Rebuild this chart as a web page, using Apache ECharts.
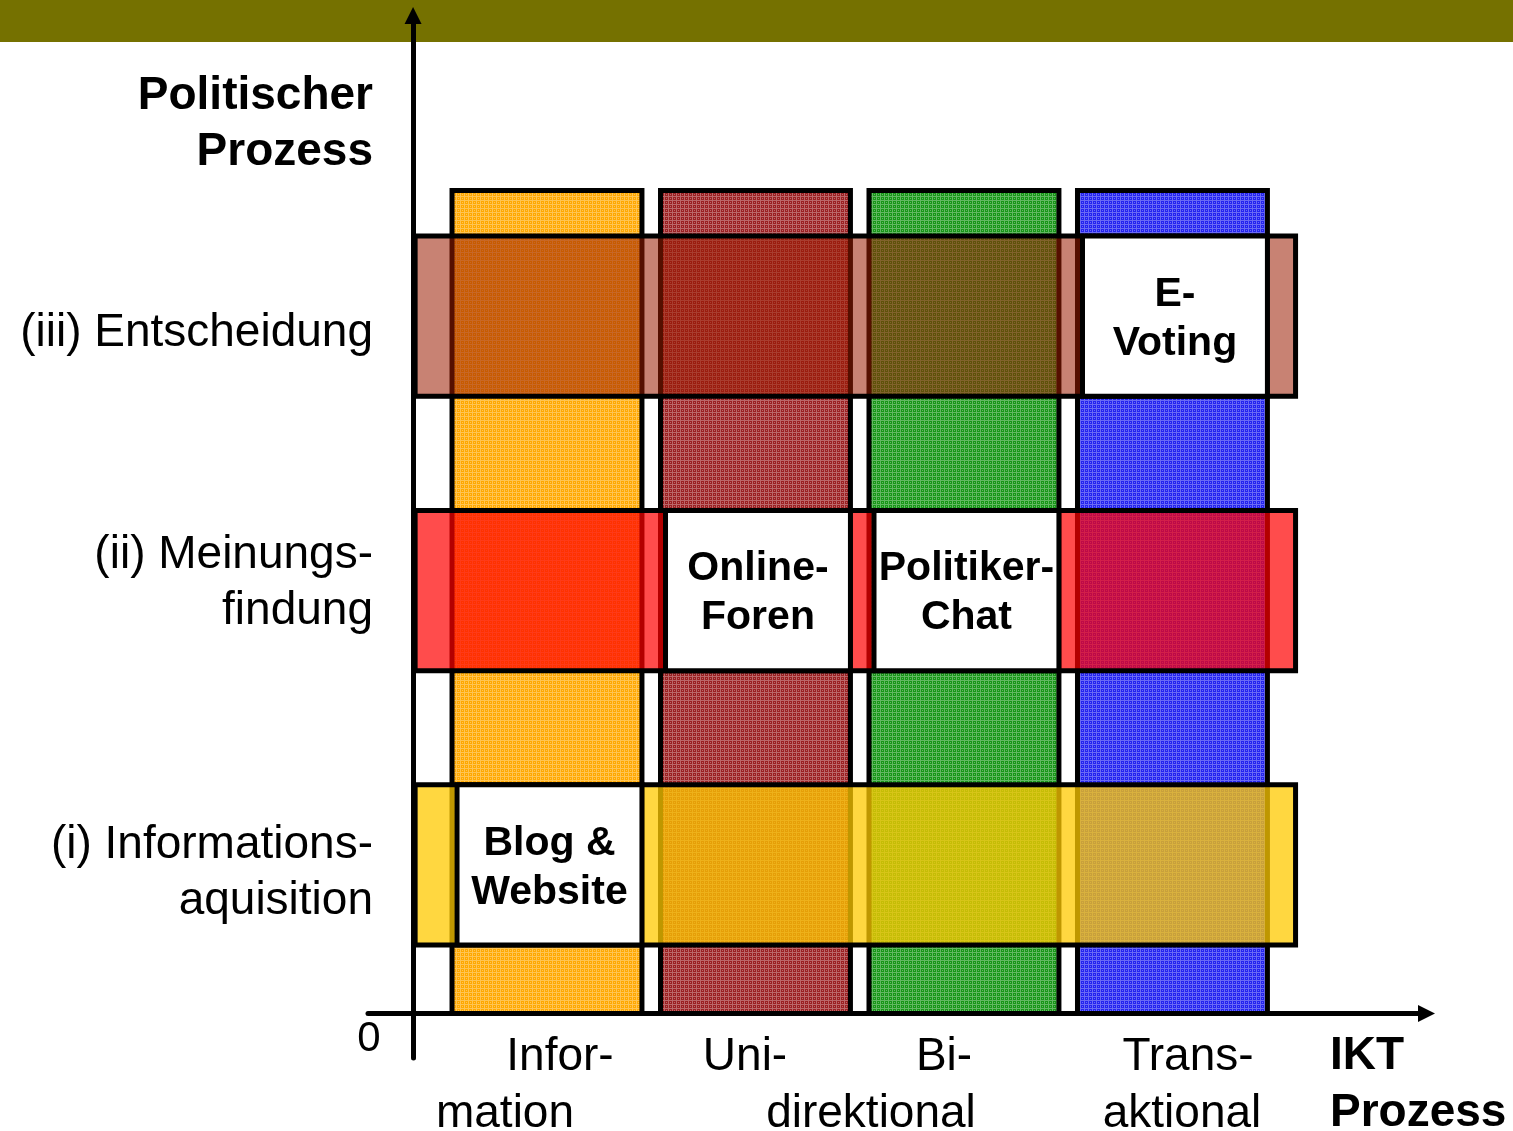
<!DOCTYPE html>
<html><head><meta charset="utf-8">
<script src="https://cdn.jsdelivr.net/npm/echarts@6/dist/echarts.min.js"></script>
<style>html,body{margin:0;padding:0;background:#fff}#chart{width:1513px;height:1131px}</style>
</head><body><div id="chart"></div>
<script>
// ---------------- data ----------------
const ictLevels = ['Information', 'Uni-direktional', 'Bi-direktional', 'Transaktional'];
const ictColumnStart = [0.187, 1.187, 2.187, 3.187];
const ictColumnEnd = [1.098, 2.098, 3.098, 4.098];
const ictColumnTop = [3, 3, 3, 3];

const politicalStages = ['(i) Informations-\naquisition', '(ii) Meinungs-\nfindung', '(iii) Entscheidung'];
const stageBandLow = [0.25, 1.25, 2.25];
const stageBandHigh = [0.834, 1.834, 2.834];
const stageBandFrom = [0.01, 0.01, 0.01];
const stageBandTo = [4.233, 4.233, 4.233];
const stageLabelAt = [0.51, 1.57, 2.48];

const toolNames = ['Blog &\nWebsite', 'Online-\nForen', 'Politiker-\nChat', 'E-\nVoting'];
const toolStage = [0, 1, 1, 2];
const toolFrom = [0.211, 1.211, 2.211, 3.211];
const toolTo = [1.098, 2.098, 3.098, 4.098];

const ictTickLines = ['Infor-', 'mation', 'Uni-', 'Bi-', 'direktional', 'Trans-', 'aktional'];
const axisTitleY = 'Politischer\nProzess';
const axisTitleX = 'IKT\nProzess';
const originLabel = '0';

// ---------------- styles / layout ----------------
const FONT = '"Liberation Sans", Arial, sans-serif';
const columnBase = [[255, 168, 0], [155, 32, 34], [24, 150, 24], [36, 36, 240]];
const bandColors = ['rgba(255,201,0,0.75)', 'rgba(255,0,0,0.7)', 'rgba(155,27,0,0.55)'];
const ictTickPos = [[560, 1057], [505, 1114], [745, 1057], [944, 1057], [871, 1114], [1188, 1057], [1182, 1114]];
const stageLabelRight = 373;

function plaid(rgb) {
  const c = document.createElement('canvas');
  c.width = 4; c.height = 4;
  const g = c.getContext('2d');
  const light = rgb.map(v => Math.round(v * 0.68 + 255 * 0.32));
  g.fillStyle = 'rgb(' + rgb.join(',') + ')';
  g.fillRect(0, 0, 4, 4);
  g.fillStyle = 'rgb(' + light.join(',') + ')';
  g.fillRect(0, 0, 4, 1);
  g.fillRect(0, 0, 1, 4);
  g.fillRect(2, 2, 1, 1);
  return { image: c, repeat: 'repeat' };
}
const columnFills = columnBase.map(plaid);

const chart = echarts.init(document.getElementById('chart'), null, { renderer: 'canvas' });

function rectShape(api, x0, x1, y0, y1) {
  const a = api.coord([x0, y1]);
  const b = api.coord([x1, y0]);
  return { x: a[0], y: a[1], width: b[0] - a[0], height: b[1] - a[1] };
}

const columnData = ictLevels.map((n, i) => [ictColumnStart[i], ictColumnEnd[i], 0, ictColumnTop[i], i]);
const bandData = politicalStages.map((n, i) => [stageBandFrom[i], stageBandTo[i], stageBandLow[i], stageBandHigh[i], i]);
const toolData = toolNames.map((n, i) => [toolFrom[i], toolTo[i], stageBandLow[toolStage[i]], stageBandHigh[toolStage[i]], i]);

function textEl(x, y, text, font, align, lineHeight) {
  return { type: 'text', x: x, y: y, style: { text: text, font: font, fill: '#000', align: align, verticalAlign: 'middle', textAlign: align, textVerticalAlign: 'middle', lineHeight: lineHeight } };
}

const graphics = [
  { type: 'rect', z: -10, shape: { x: 0, y: 0, width: 1513, height: 42 }, style: { fill: '#757100' } },
  textEl(373, 124, axisTitleY, 'bold 46px ' + FONT, 'right', 56),
  textEl(1330, 1085, axisTitleX, 'bold 46px ' + FONT, 'left', 57),
  textEl(369, 1039, originLabel, '42px ' + FONT, 'center', 42)
];
ictTickLines.forEach((t, i) => {
  graphics.push(textEl(ictTickPos[i][0], ictTickPos[i][1], t, '46px ' + FONT, 'center', 46));
});

const option = {
  animation: false,
  backgroundColor: '#fff',
  grid: { left: 368, right: 86.5, top: 15.5, bottom: 73, containLabel: false, outerBoundsMode: 'none' },
  xAxis: {
    type: 'value', min: -0.216, max: 4.861,
    axisLine: { onZero: true, lineStyle: { color: '#000', width: 5 }, symbol: ['none', 'triangle'], symbolSize: [17, 17] },
    axisTick: { show: false }, axisLabel: { show: false }, splitLine: { show: false }
  },
  yAxis: {
    type: 'value', min: -0.162, max: 3.638,
    axisLine: { onZero: true, lineStyle: { color: '#000', width: 5 }, symbol: ['none', 'triangle'], symbolSize: [17, 17] },
    axisTick: { show: false }, splitLine: { show: false }, axisLabel: { show: false }
  },
  graphic: { elements: graphics },
  series: [
    {
      type: 'custom', name: 'IKT', data: columnData, encode: { x: [0, 1], y: [2, 3] }, z: 1,
      renderItem: (params, api) => ({
        type: 'rect', shape: rectShape(api, api.value(0), api.value(1), api.value(2), api.value(3)),
        style: { fill: columnFills[api.value(4)], stroke: '#000', lineWidth: 5 }
      })
    },
    {
      type: 'custom', name: 'Stufen', data: bandData, encode: { x: [0, 1], y: [2, 3] }, z: 2,
      renderItem: (params, api) => ({
        type: 'rect', shape: rectShape(api, api.value(0), api.value(1), api.value(2), api.value(3)),
        style: { fill: bandColors[api.value(4)], stroke: '#000', lineWidth: 5 }
      })
    },
    {
      type: 'custom', name: 'Tools', data: toolData, encode: { x: [0, 1], y: [2, 3] }, z: 3,
      renderItem: (params, api) => ({
        type: 'rect', shape: rectShape(api, api.value(0), api.value(1), api.value(2), api.value(3)),
        style: { fill: '#fff', stroke: '#000', lineWidth: 5 },
        textContent: { style: { text: toolNames[api.value(4)], fontSize: 41, fontWeight: 'bold', fontFamily: FONT, fill: '#000', align: 'center', verticalAlign: 'middle', lineHeight: 49 } },
        textConfig: { position: 'inside', offset: [0, 3] }
      })
    }
  ]
};
chart.setOption(option);

// stage tick labels placed through the y scale
const stageLabels = politicalStages.map((t, i) => {
  const py = chart.convertToPixel({ gridIndex: 0 }, [0, stageLabelAt[i]])[1];
  return textEl(stageLabelRight, py, t, '46px ' + FONT, 'right', 56);
});
chart.setOption({ graphic: { elements: graphics.concat(stageLabels) } });
</script>
</body></html>
